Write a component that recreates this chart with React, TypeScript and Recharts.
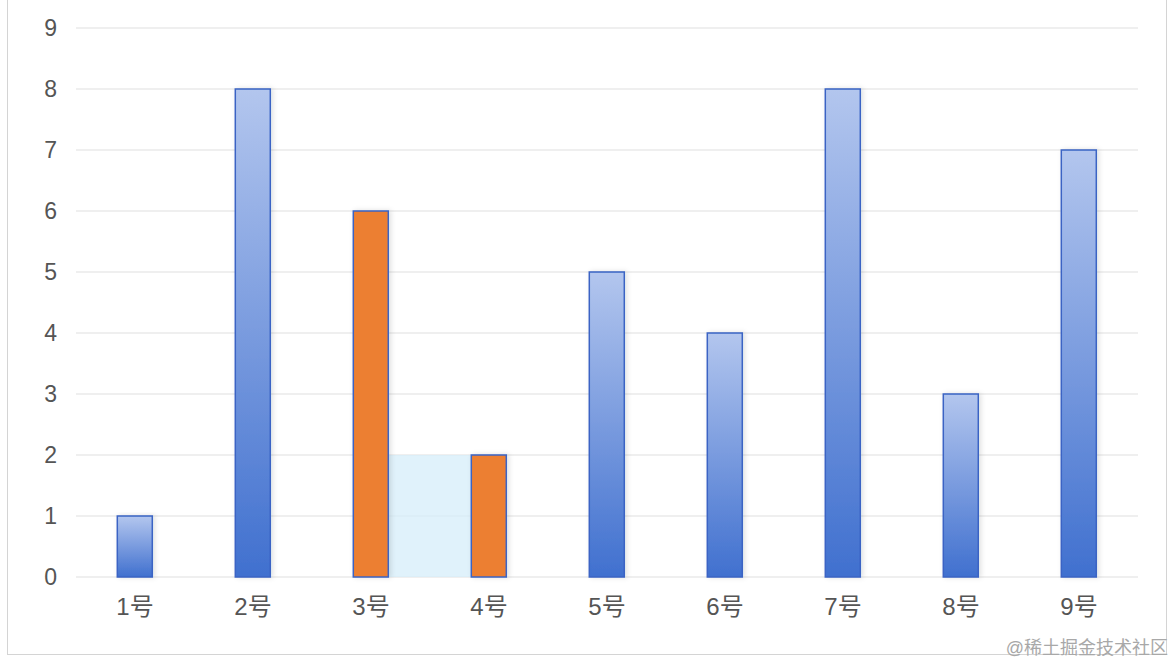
import { BarChart, Bar, XAxis, YAxis, CartesianGrid, Cell, ReferenceArea } from "recharts";

const categories = ["1号", "2号", "3号", "4号", "5号", "6号", "7号", "8号", "9号"];
const values = [1, 8, 6, 2, 5, 4, 8, 3, 7];
const highlighted = ["3号", "4号"];
const bridgeFrom = "3号";
const bridgeTo = "4号";
const bridgeValue = 2;
const yTicks = [0, 1, 2, 3, 4, 5, 6, 7, 8, 9];

const data = categories.map((name, i) => ({ name, value: values[i] }));

const GAP = 0.35; // barCategoryGap as a fraction of each band

const FONT = "'Liberation Sans', 'Noto Sans CJK SC', sans-serif";

// ReferenceArea spans from the start of the first band to the end of the last one;
// shrink it so it only fills the space between the two bars.
const BridgeShape = (props: any) => {
  const { x, y, width, height } = props;
  const band = width / 2;
  return (
    <rect
      x={x + band * (1 - GAP)}
      y={y}
      width={band * 2 * GAP}
      height={height}
      fill="#d6eef9"
      fillOpacity={0.75}
    />
  );
};

export default function App() {
  return (
    <div style={{ position: "absolute", left: 0, top: 0, width: 1174, height: 662, background: "#fff", overflow: "hidden" }}>
      <div
        style={{
          position: "absolute",
          left: 7,
          top: -10,
          width: 1160,
          height: 665,
          border: "1px solid #d4d4d4",
          boxSizing: "border-box",
        }}
      />
      <div style={{ position: "absolute", left: 0, top: 0 }}>
        <BarChart
          width={1174}
          height={662}
          data={data}
          margin={{ top: 28, right: 36, left: 16, bottom: 45 }}
          barCategoryGap={`${GAP * 100}%`}
        >
          <defs>
            <linearGradient id="blueFill" x1="0" y1="0" x2="0" y2="1">
              <stop offset="0%" stopColor="#b3c6ee" />
              <stop offset="100%" stopColor="#4070cf" />
            </linearGradient>
            <filter id="barShadow" x="-30%" y="-5%" width="160%" height="115%">
              <feDropShadow dx="2" dy="0" stdDeviation="2.5" floodColor="#000" floodOpacity="0.12" />
            </filter>
          </defs>
          <CartesianGrid vertical={false} stroke="#e0e0e0" strokeWidth={1.2} />
          <XAxis
            dataKey="name"
            axisLine={false}
            tickLine={false}
            tickSize={0}
            tickMargin={21}
            height={40}
            tick={{ fontSize: 24, fill: "#555", fontFamily: FONT }}
          />
          <YAxis
            domain={[0, 9]}
            ticks={yTicks}
            axisLine={false}
            tickLine={false}
            tickSize={0}
            tickMargin={19}
            width={60}
            tick={{ fontSize: 23, fill: "#555", fontFamily: FONT }}
          />
          <ReferenceArea
            x1={bridgeFrom}
            x2={bridgeTo}
            y1={0}
            y2={bridgeValue}
            shape={BridgeShape}
          />
          <Bar
            dataKey="value"
            stroke="#3a63c4"
            strokeWidth={1.5}
            isAnimationActive={false}
            style={{ filter: "url(#barShadow)" }}
          >
            {data.map((d) => (
              <Cell key={d.name} fill={highlighted.includes(d.name) ? "#ec7f32" : "url(#blueFill)"} />
            ))}
          </Bar>
        </BarChart>
      </div>
      <div
        style={{
          position: "absolute",
          right: 6,
          top: 633,
          fontSize: 18,
          color: "#a8a8a8",
          fontFamily: FONT,
        }}
      >
        @稀土掘金技术社区
      </div>
    </div>
  );
}
